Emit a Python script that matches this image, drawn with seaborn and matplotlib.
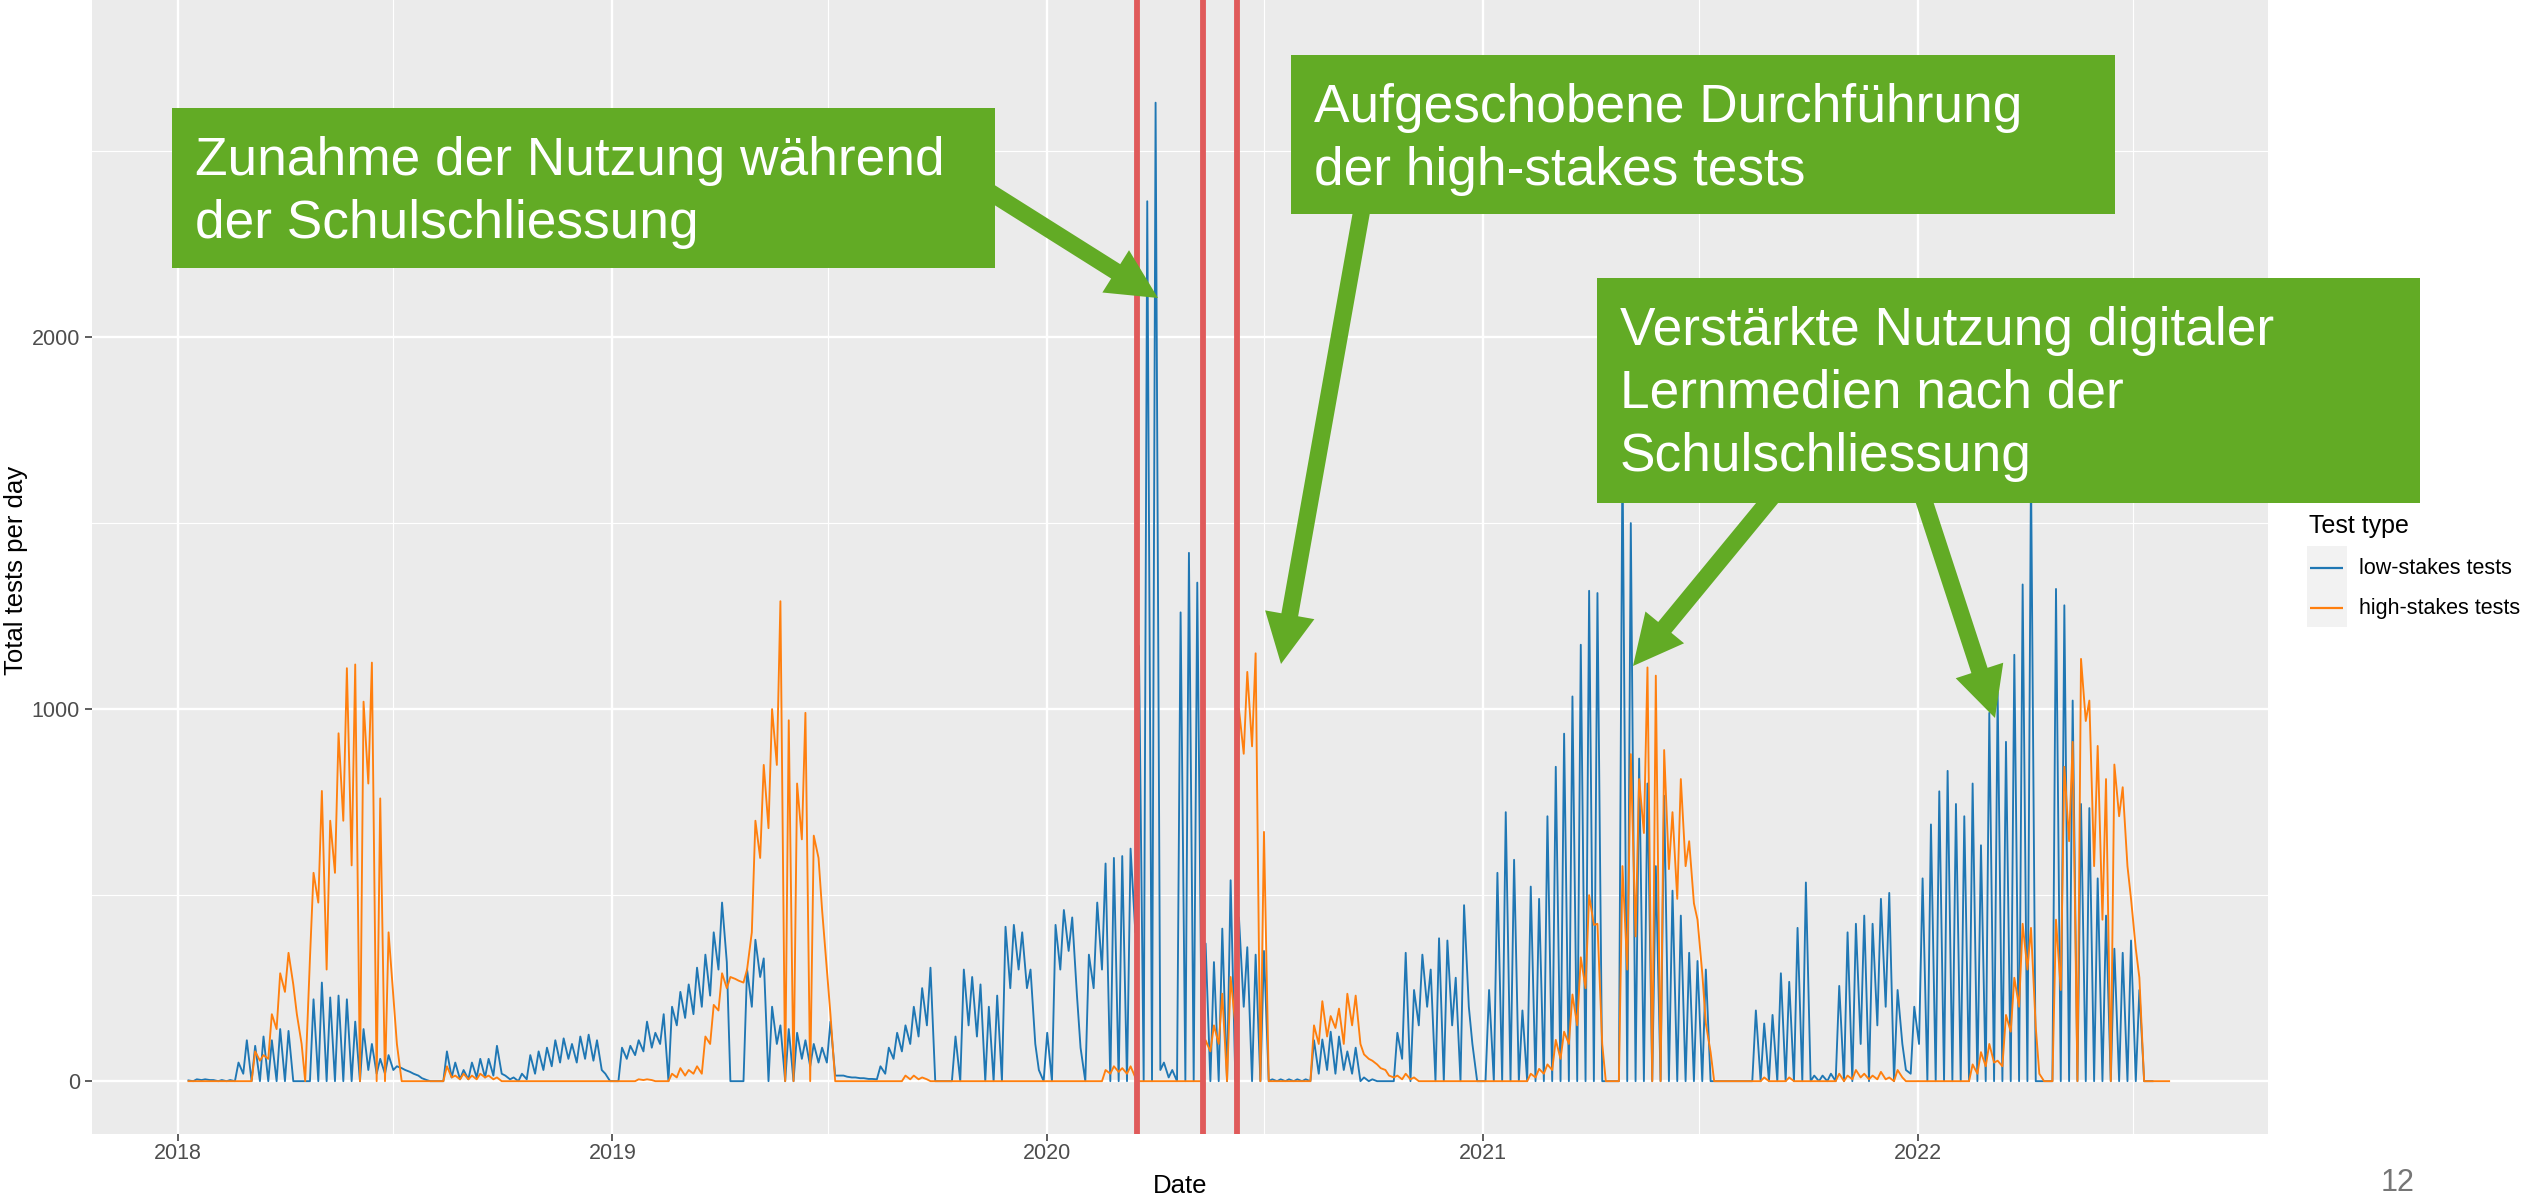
import pandas as pd
import matplotlib
matplotlib.use("Agg")
import matplotlib.pyplot as plt
import matplotlib.dates as mdates
from matplotlib.patches import Rectangle, FancyArrow
import seaborn as sns

# weekly readings: (weekday level, weekend level) per week, weeks start on the given Monday
low_2018_start = "2018-01-08"
low_2018 = [(2, 0), (5, 3), (5, 3), (3, 0), (3, 0), (3, 0), (50, 20), (110, 0), (95, 0), (120, 0),
            (110, 0), (140, 0), (135, 0), (0, 0), (0, 0), (220, 0), (265, 0), (225, 0), (230, 0), (220, 0),
            (160, 0), (140, 30), (100, 20), (60, 20), (70, 30), (40, 35), (30, 25), (20, 15), (8, 3), (0, 0),
            (0, 0), (80, 10), (50, 5), (30, 5), (50, 10), (60, 10), (60, 15), (95, 20), (15, 5), (10, 0),
            (20, 5), (70, 20), (80, 30), (90, 40), (110, 50), (115, 60), (100, 50), (120, 60), (125, 55), (110, 30),
            (20, 0)]
high_2018 = [(0, 0)] * 8 + [
            (80, 55), (70, 60), (180, 140), (290, 240), (345, 260), (180, 100), (0, 330), (560, 480), (780, 300),
            (700, 560), (935, 700), (1110, 580), (1120, 0), (1020, 800), (1125, 0), (760, 0), (400, 230), (100, 0),
            (0, 0), (0, 0), (0, 0), (0, 0), (0, 0), (40, 10), (15, 5), (20, 5), (15, 5), (20, 10), (15, 5), (10, 0)
            ] + [(0, 0)] * 13

low_2019_start = "2018-12-31"
low_2019 = [(0, 0), (90, 60), (95, 70), (110, 80), (160, 90), (130, 100), (180, 0), (200, 150), (240, 170), (260, 180),
            (305, 200), (340, 230), (400, 300), (480, 320), (0, 0), (0, 0), (300, 200), (380, 280), (330, 0), (200, 100),
            (150, 0), (140, 0), (130, 60), (110, 40), (100, 50), (90, 50), (160, 15), (15, 15), (12, 10), (10, 8),
            (8, 6), (6, 5), (40, 20), (90, 60), (130, 80), (150, 100), (200, 120), (250, 150), (305, 0), (0, 0),
            (0, 0), (120, 0), (300, 150), (280, 120), (260, 0), (200, 0), (230, 0), (415, 250), (420, 300), (400, 250),
            (300, 100), (30, 0)]
high_2019 = [(0, 0), (0, 0), (0, 0), (5, 3), (5, 3), (0, 0), (0, 0), (20, 10), (35, 15), (30, 20),
             (40, 20), (120, 100), (205, 190), (290, 250), (280, 275), (270, 265), (300, 400), (700, 600), (850, 680),
             (1000, 850), (1290, 0), (970, 0), (800, 650), (990, 0), (660, 600), (460, 300), (180, 0)
             ] + [(0, 0)] * 8 + [(15, 5), (15, 5), (10, 5)] + [(0, 0)] * 14

low_2020_start = "2019-12-30"
low_2020 = [(130, 0), (420, 300), (460, 350), (440, 230), (90, 0), (340, 250), (480, 300), (585, 0), (600, 0), (605, 0),
            (625, 400), (1170, 0), (2365, 0), (2630, 30), (50, 10), (30, 0), (1260, 0), (1420, 0), (1340, 0), (370, 0),
            (320, 0), (410, 0), (540, 0), (440, 200), (360, 0), (340, 0), (350, 0), (5, 0), (5, 0), (5, 0),
            (5, 0), (5, 0), (110, 20), (112, 30), (133, 20), (120, 30), (80, 20), (90, 0), (10, 0), (5, 0),
            (0, 0), (0, 0), (130, 60), (345, 0), (245, 150), (340, 200), (300, 0), (384, 0), (378, 150), (278, 0),
            (473, 200), (100, 0), (0, 0)]
high_2020 = [(0, 0)] * 7 + [(30, 20), (40, 25), (35, 20), (40, 10)] + [(0, 0)] * 8 + [
             (110, 80), (150, 100), (235, 0), (280, 150), (1000, 880), (1100, 900), (1150, 0), (670, 0)
             ] + [(0, 0)] * 5 + [
             (150, 100), (215, 120), (175, 143), (195, 100), (235, 150), (230, 100), (72, 60), (55, 45), (35, 30),
             (15, 10), (15, 5), (20, 5), (10, 0)] + [(0, 0)] * 8

low_2021_start = "2021-01-04"
low_2021 = [(245, 0), (560, 0), (723, 0), (595, 0), (190, 0), (523, 0), (490, 0), (712, 0), (845, 0), (934, 0),
            (1034, 0), (1173, 0), (1318, 0), (1312, 0), (0, 0), (0, 0), (1700, 0), (1500, 0), (867, 0), (800, 0),
            (578, 0), (767, 0), (512, 0), (445, 0), (345, 0), (323, 0), (300, 0), (0, 0), (0, 0), (0, 0),
            (0, 0), (0, 0), (190, 0), (155, 0), (178, 0), (290, 0), (267, 0), (412, 0), (534, 0), (15, 0),
            (15, 0), (20, 0), (256, 0), (400, 0), (423, 100), (445, 0), (423, 150), (490, 200), (506, 0), (245, 100),
            (30, 20), (200, 100)]
high_2021 = [(0, 0)] * 5 + [
             (20, 10), (33, 20), (45, 30), (111, 60), (133, 100), (233, 150), (333, 250), (500, 420), (423, 100),
             (0, 0), (0, 0), (578, 300), (879, 389), (812, 667), (1112, 0), (1090, 0), (890, 570), (723, 490),
             (812, 578), (645, 478), (434, 290), (155, 78)] + [(0, 0)] * 6 + [
             (10, 0), (0, 0), (0, 0), (10, 0)] + [(0, 0)] * 5 + [
             (20, 0), (15, 5), (30, 10), (20, 5), (15, 5), (25, 5), (10, 0), (30, 10), (0, 0), (0, 0)]

low_2022_start = "2022-01-03"
low_2022 = [(545, 0), (690, 0), (779, 0), (834, 0), (745, 0), (712, 0), (800, 0), (634, 0), (990, 0), (1045, 0),
            (912, 0), (1146, 0), (1335, 0), (1650, 0), (0, 0), (0, 0), (1323, 0), (1279, 0), (1023, 0), (745, 0),
            (734, 0), (545, 0), (445, 0), (356, 0), (345, 0), (378, 0), (245, 0), (0, 0)]
high_2022 = [(0, 0)] * 6 + [
             (45, 20), (78, 40), (100, 50), (55, 40), (178, 133), (278, 200), (423, 300), (412, 145), (20, 0),
             (0, 0), (434, 245), (845, 645), (912, 0), (1135, 968), (1023, 578), (901, 434), (812, 0), (851, 712),
             (790, 578), (490, 356), (278, 0), (0, 0), (0, 0), (0, 0)]

closure_dates = ["2020-03-16", "2020-05-11", "2020-06-08"]
year_ticks = [2018, 2019, 2020, 2021, 2022]
type_names = ["low-stakes tests", "high-stakes tests"]
type_colors = ["#1F77B4", "#FF7F0E"]

boxes = [
    ["Zunahme der Nutzung während", "der Schulschliessung"],
    ["Aufgeschobene Durchführung", "der high-stakes tests"],
    ["Verstärkte Nutzung digitaler", "Lernmedien nach der", "Schulschliessung"],
]


def weekly_rows(start, weeks, name):
    rows = []
    base = pd.Timestamp(start)
    for i, (wd, we) in enumerate(weeks):
        monday = base + pd.Timedelta(weeks=i)
        rows.append((monday + pd.Timedelta(days=2), wd, name))
        rows.append((monday + pd.Timedelta(days=6), we, name))
    return rows


rows = []
for start, low, high in [(low_2018_start, low_2018, high_2018), (low_2019_start, low_2019, high_2019),
                         (low_2020_start, low_2020, high_2020), (low_2021_start, low_2021, high_2021),
                         (low_2022_start, low_2022, high_2022)]:
    rows += weekly_rows(start, low, type_names[0])
    rows += weekly_rows(start, high, type_names[1])
df = pd.DataFrame(rows, columns=["date", "tests", "type"])

plt.rcParams["font.family"] = ["Liberation Sans", "DejaVu Sans"]

W, H = 2522, 1196
fig = plt.figure(figsize=(W / 100, H / 100), dpi=100)
ax = fig.add_axes([92 / W, 62 / H, 2176 / W, 1134 / H])

sns.lineplot(data=df, x="date", y="tests", hue="type", hue_order=type_names,
             palette=dict(zip(type_names, type_colors)), estimator=None,
             linewidth=1.35, legend=False, ax=ax)

for d in closure_dates:
    ax.axvline(pd.Timestamp(d), color="#E05A5A", lw=4.2, zorder=3)

ax.set_xlim(pd.Timestamp("2017-10-21"), pd.Timestamp("2022-10-22"))
ax.set_ylim(-142, 2906)
ax.set_facecolor("#EBEBEB")
for s in ax.spines.values():
    s.set_visible(False)
ax.set_xticks([pd.Timestamp(f"{y}-01-01") for y in year_ticks])
ax.xaxis.set_major_formatter(mdates.DateFormatter("%Y"))
ax.set_xticks([pd.Timestamp(f"{y}-07-01") for y in year_ticks], minor=True)
ax.set_yticks([0, 1000, 2000])
ax.set_yticks([500, 1500, 2500], minor=True)
ax.grid(which="major", color="white", lw=1.7)
ax.grid(which="minor", color="white", lw=0.85)
ax.set_axisbelow(True)
ax.tick_params(which="major", length=5, width=1.1, color="#333333",
               labelsize=15.5, labelcolor="#4D4D4D")
ax.tick_params(axis="x", which="major", pad=1.5)
ax.tick_params(axis="y", which="major", pad=3.6)
ax.tick_params(which="minor", length=0)
ax.set_xlabel("")
ax.set_ylabel("")

# overlay in pixel coordinates for titles, legend and slide annotations
ov = fig.add_axes([0, 0, 1, 1], zorder=5)
ov.set_xlim(0, W)
ov.set_ylim(H, 0)
ov.axis("off")

ov.text(1180, 1193, "Date", ha="center", va="baseline", fontsize=18.5, color="black")
ov.text(16, 570, "Total tests per day", ha="center", va="center", rotation=90,
        fontsize=18.5, color="black")

# legend
ov.text(2309, 533, "Test type", ha="left", va="baseline", fontsize=18, color="black")
ov.add_patch(Rectangle((2307, 546), 40, 81, facecolor="#F2F2F2", edgecolor="none"))
for yk, name, col in zip([568, 608], type_names, type_colors):
    ov.plot([2310, 2343], [yk, yk], color=col, lw=1.6, solid_capstyle="butt")
    ov.text(2359, yk + 6, name, ha="left", va="baseline", fontsize=15.5, color="black")

green = "#62AB25"
arrows = [((950, 167), (1158, 298)), ((1370, 164), (1281, 664)),
          ((1800, 463), (1633, 666)), ((1912, 464), (1995, 718))]
for (x0, y0), (x1, y1) in arrows:
    ov.add_patch(FancyArrow(x0, y0, x1 - x0, y1 - y0, width=17, head_width=50, head_length=50,
                            length_includes_head=True, color=green, lw=0))

box_geo = [(172, 108, 823, 160), (1291, 55, 824, 159), (1597, 278, 823, 225)]
for (bx, by, bw, bh), lines in zip(box_geo, boxes):
    ov.add_patch(Rectangle((bx, by), bw, bh, facecolor=green, edgecolor="none"))
    for k, line in enumerate(lines):
        ov.text(bx + 23, by + 67 + 63 * k, line, ha="left", va="baseline",
                fontsize=38.3, color="white")

ov.text(2398, 1191, "12", ha="center", va="baseline", fontsize=22, color="#767676")

fig.savefig("out.png", dpi=100, facecolor="white")
